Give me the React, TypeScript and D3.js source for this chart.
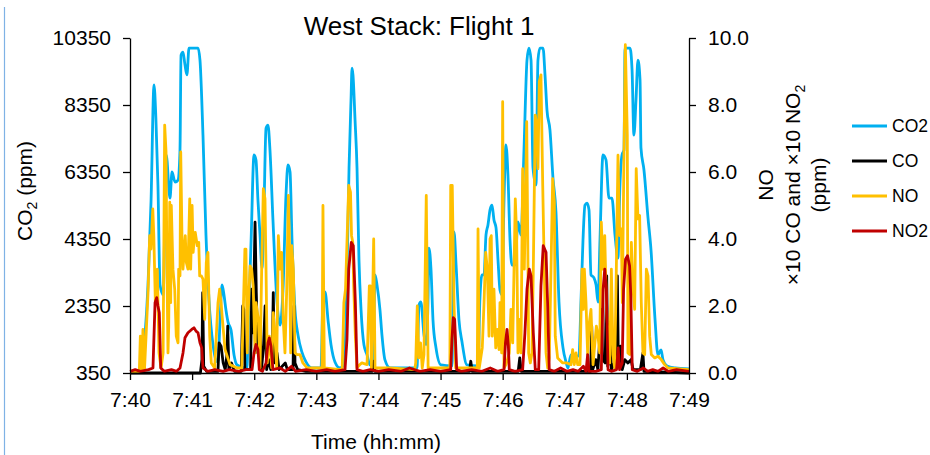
import React, { useEffect, useRef } from 'react';
import * as d3 from 'd3';

// time is seconds after 7:40:00
// CO2 in ppm (left axis)
const co2Data: [number, number][] = [
  [0, 380], [10, 410], [14.5, 1480], [17.4, 2980], [20.3, 5450], [23.2, 8950], [25, 7960], [27, 5960],
  [29, 2980], [32, 2680], [35, 6860], [38.6, 5570], [40.6, 6350], [43.5, 6050], [46.4, 6110], [48.3, 7010],
  [49.3, 9840], [51.2, 9930], [53, 9570], [55, 9250], [57, 10050], [65.7, 10050], [67.6, 9690], [70.5, 7450],
  [73.4, 4470], [76.3, 2530], [80.2, 1190], [83, 740], [85, 680], [87, 1930], [88.9, 2980], [90.8, 2680],
  [92.7, 2230], [94.7, 1870], [97.6, 1630], [100.5, 890], [103.4, 590], [111, 500], [113, 500], [114, 1480],
  [117, 4320], [119.8, 6860], [121.7, 6710], [123.6, 5510], [125.6, 4470], [127.5, 3480], [129.4, 5220],
  [131.4, 7660], [133.3, 7750], [135.2, 7010], [138.1, 4920], [142, 2470], [145, 1780], [147.8, 2830],
  [150.7, 5660], [152.6, 6560], [154.6, 6350], [156.5, 4320], [159.4, 2230], [162.3, 1480], [166, 980],
  [170, 680], [175.8, 500], [184.5, 500], [186.4, 2530], [188.4, 2770], [191.3, 1930], [194.2, 1190],
  [198, 680], [202.9, 500], [206.7, 590], [208.7, 1930], [211.6, 6470], [213.5, 8500], [214.5, 9450],
  [215.4, 9250], [217.4, 7900], [219.3, 6470], [221.2, 3720], [223.2, 2230], [226, 1190], [229, 890],
  [231.8, 590], [234.7, 560], [236.7, 3280], [238.6, 2980], [241.5, 2230], [243.4, 1480], [246.3, 740],
  [251.2, 500], [277.2, 500], [279.2, 2380], [281, 2470], [284, 1480], [286, 1190], [287.9, 2530],
  [288.8, 4080], [290.8, 3420], [292.7, 1930], [295.6, 1100], [300.4, 590], [311, 560], [313, 4560],
  [315, 3570], [317.8, 1930], [320.7, 1280], [325.5, 590], [336.2, 560], [338, 2530], [340, 3280],
  [342, 3280], [343.9, 4470], [345.8, 4770], [347.8, 5220], [349.7, 5360], [351.6, 4920], [353.6, 4680],
  [355.5, 3720], [357.4, 2830], [359.4, 2680], [361.3, 5510], [363.2, 7160], [365.1, 6260], [367.1, 4320],
  [369, 3570], [371.9, 3570], [374.8, 4860], [377.7, 4470], [380.6, 7010], [383.5, 9690], [385.4, 10050],
  [387.4, 9690], [389.3, 6470], [392.2, 5960], [394.1, 9690], [396, 10050], [399, 10050], [400.9, 9250],
  [402.8, 8200], [405.7, 7600], [408.6, 6170], [411.5, 5150], [414.4, 2470], [418.3, 1100], [421.2, 680],
  [423, 500], [426, 890], [429, 680], [430.8, 800], [433.7, 890], [435.7, 2530], [437.6, 4320],
  [439.5, 5360], [441.5, 5420], [443.4, 5220], [445.3, 3280], [448.2, 3190], [450.2, 2980], [452.1, 2470],
  [454, 4320], [456.9, 6860], [459.8, 6710], [462.7, 5570], [465.6, 5570], [468.5, 4470], [471.4, 3780],
  [473.3, 5960], [475.3, 6860], [477.2, 7010], [478.2, 10050], [483, 10050], [485, 9390], [486.8, 7450],
  [488.8, 8500], [490.7, 9690], [492.7, 9100], [493.6, 7070], [496.5, 6410], [500.4, 4980], [503.3, 4020],
  [507.1, 1990], [510, 890], [513, 1040], [514.9, 740], [518.8, 560], [526.5, 500], [540, 470],
];

// x10 CO in ppm (right axis)
const coData: [number, number][] = [
  [0, 0], [68, 0], [69.5, 0.4], [70.2, 2.4], [71.2, 0.2], [74, 0.05], [85, 0.05], [86, 0.9], [88, 0.8],
  [90, 0.3], [92, 0.1], [93.5, 0.5], [94.4, 1.4], [95.5, 0.1], [98, 0.3], [101, 0.05], [107.5, 0.05],
  [108.9, 2.0], [110, 1.9], [111, 0.1], [116.5, 0.1], [117.6, 2.5], [118.8, 1.2], [120.8, 4.5], [122, 2.4],
  [123.5, 0.6], [125.6, 1.4], [127, 0.1], [129, 0.8], [130.5, 2.0], [132, 0.1], [134, 0.4], [136, 0.1],
  [137.5, 0.6], [138.4, 2.4], [139.5, 0.3], [142, 0.6], [144, 0.1], [150, 0.3], [152, 0.1], [157.5, 0.1],
  [158.4, 2.0], [159.4, 0.3], [162, 0.1], [170, 0.05], [234, 0.05], [235.4, 0.35], [236.5, 0.05],
  [328, 0.05], [329.2, 0.35], [330.5, 0.05], [375, 0.05], [376.5, 0.45], [378, 0.05], [445, 0.05],
  [446, 1.4], [447, 0.1], [450, 0.4], [452, 0.1], [455.5, 1.9], [456.5, 0.4], [459, 0.3], [460.5, 2.9],
  [461.5, 0.2], [463, 0.4], [464, 1.5], [465, 0.1], [468, 0.3], [470, 0.8], [470.8, 2.9], [471.8, 0.2],
  [474, 0.8], [475.5, 0.1], [478, 0.4], [481, 0.3], [484, 0.4], [486, 0.1], [493, 0.1], [495.5, 0.6],
  [496.5, 0.05], [540, 0],
];

// NO in ppm (right axis)
const noData: [number, number][] = [
  [0, 0.05], [9, 0.05], [10, 1.1], [11.5, 0.1], [12.5, 1.3], [14, 0.1], [15.5, 1.1], [17.4, 2.4], [19, 4.1],
  [20.3, 3.7], [22, 4.9], [23, 4.1], [24.5, 2.1], [26.4, 3.1], [28, 0.6], [30, 0.15], [32, 0.6], [33.5, 7.4],
  [34.8, 6.6], [35.7, 3.1], [36.7, 0.6], [37.4, 1.4], [38.4, 5.1], [39.3, 2.1], [39.9, 5.0], [41.5, 3.1],
  [43.2, 2.5], [44.7, 1.1], [46.4, 0.9], [47, 3.1], [48.3, 2.9], [49, 6.6], [50.2, 4.1], [51.2, 3.1],
  [52.2, 3.6], [53.4, 4.1], [54.4, 3.3], [56, 3.1], [57.7, 5.2], [58.6, 3.1], [60, 5.0], [61, 3.6],
  [61.8, 3.9], [63, 4.2], [65, 3.8], [66.4, 3.9], [67.3, 2.9], [68.9, 2.9], [70.5, 2.8], [72.2, 1.6],
  [73.7, 3.3], [75.3, 3.6], [77, 1.1], [78.5, 0.3], [81.8, 0.15], [85, 2.1], [86.6, 2.5], [88, 2.1],
  [89, 1.7], [91.8, 0.7], [96.6, 0.25], [103.4, 0.15], [108, 0.15], [111, 3.7], [112, 3.7], [113.3, 0.6],
  [114.3, 1.9], [116, 3.2], [117.5, 3.1], [119, 2.6], [120.8, 0.6], [121.7, 2.1], [124, 1.6], [125.6, 0.15],
  [127.2, 3.1], [128.8, 5.5], [130.4, 5.2], [131.4, 3.1], [132.6, 0.3], [134.6, 1.1], [136.9, 0.15],
  [138.4, 1.8], [140, 1.1], [141.7, 0.15], [143.3, 4.1], [145, 3.1], [146.5, 3.6], [148, 1.6], [149.7, 0.6],
  [151.4, 2.5], [153, 5.3], [153.9, 4.1], [155.2, 0.6], [156.2, 3.8], [157.8, 3.1], [159.4, 0.6],
  [161.3, 0.55], [164.2, 0.55], [167, 0.3], [171, 0.15], [185.5, 0.15], [186.4, 5.0], [187.7, 0.15],
  [203, 0.1], [205, 0.15], [206.6, 2.1], [208.2, 2.5], [209.8, 4.1], [211.3, 5.6], [213, 5.4], [214, 4.1],
  [215.2, 3.9], [216.1, 2.6], [217.7, 1.1], [219.3, 0.15], [222, 0.25], [224, 0.3], [229, 0.25],
  [231.2, 2.6], [232.2, 2.6], [233.2, 0.15], [235.4, 4.0], [236.7, 0.15], [251, 0.15], [275, 0.1],
  [276, 0.3], [277.5, 2.0], [279, 0.45], [280.7, 0.9], [282.3, 0.15], [284, 0.55], [286.2, 5.3],
  [288, 0.15], [309, 0.15], [309.8, 5.6], [311.3, 5.6], [313, 2.1], [314.6, 0.15], [335.5, 0.15],
  [336.2, 4.3], [337.4, 0.15], [340.3, 0.75], [342, 2.1], [343.6, 3.6], [345.2, 3.1], [346.8, 1.1],
  [347.8, 4.0], [349, 4.1], [350, 1.1], [351.6, 2.5], [353.3, 0.75], [354.8, 1.3], [356.5, 0.7],
  [357.4, 2.1], [359, 0.6], [360, 8.1], [361.3, 0.15], [363.2, 0.25], [366.4, 0.6], [368, 1.9],
  [369.7, 0.9], [372.2, 5.2], [373.5, 4.1], [374.8, 0.6], [376, 1.6], [377.7, 0.6], [379.3, 6.1],
  [380.9, 3.1], [381.9, 4.8], [383.2, 7.5], [384.2, 4.1], [385.1, 0.6], [386.7, 0.3], [388.3, 0.6],
  [389.6, 3.1], [391.5, 7.7], [392.8, 7.4], [394.1, 6.1], [395.4, 8.7], [397, 8.9], [398.7, 5.6],
  [400.2, 3.1], [401.9, 0.6], [403.5, 0.15], [405, 0.45], [406.7, 3.1], [408.3, 5.8], [409.9, 5.1],
  [410.8, 1.1], [413.1, 0.45], [418, 0.3], [422, 0.3], [426, 0.25], [427.6, 0.7], [429.2, 0.25],
  [430.8, 0.6], [432.4, 0.25], [434.7, 0.25], [436.6, 3.1], [437.9, 1.9], [438.9, 3.1], [440.5, 2.1],
  [442.1, 0.55], [443.7, 1.5], [445.3, 1.9], [447.3, 0.25], [450.5, 1.4], [452.1, 1.1], [453.7, 0.6],
  [455.3, 4.5], [457, 3.1], [458.6, 4.1], [460.1, 2.1], [461.8, 1.1], [463.4, 0.3], [465, 3.1],
  [466.6, 0.55], [468.2, 0.15], [469.8, 3.1], [471.4, 6.5], [473, 4.1], [474.6, 4.3], [475.6, 2.1],
  [477.2, 6.6], [478.5, 9.8], [480.4, 7.1], [481, 0.6], [482.7, 0.55], [484.3, 3.9], [485.9, 2.5],
  [487.5, 1.9], [489, 6.1], [490.7, 4.6], [492.3, 4.7], [493.9, 2.1], [495.5, 0.6], [497.2, 0.55],
  [498.8, 3.1], [500.4, 2.9], [502, 1.1], [503.6, 0.55], [506.9, 0.45], [510, 0.5], [513.2, 0.4],
  [516.5, 0.25], [519.7, 0.15], [540, 0.1],
];

// x10 NO2 in ppm (right axis)
const no2Data: [number, number][] = [
  [0, 0.05], [5, 0.1], [10, 0.05], [18, 0.1], [22.2, 0.15], [24.2, 2.1], [25.8, 2.25], [27, 2.0],
  [28.3, 1.8], [29.7, 0.15], [33, 0.05], [40, 0.1], [45, 0.05], [48.3, 0.15], [51.2, 0.6], [53.1, 1.05],
  [56, 1.2], [59.6, 1.3], [61.8, 1.35], [63.8, 1.25], [65.7, 1.2], [67.6, 0.9], [69.3, 0.75], [70.5, 0.15],
  [75, 0.05], [82, 0.1], [90, 0.05], [96, 0.1], [105, 0.05], [112, 0.1], [117.9, 0.1], [119.8, 0.6],
  [121.7, 0.85], [123.6, 0.7], [124.9, 0.1], [128, 0.05], [131.4, 0.3], [133.3, 0.9], [134.6, 1.05],
  [136.2, 0.8], [138.1, 0.1], [145, 0.15], [150, 0.05], [156, 0.2], [160, 0.05], [170, 0.1], [180, 0.05],
  [190, 0.1], [198, 0.05], [207.7, 0.1], [209.6, 1.0], [211.3, 3.1], [213.8, 3.9], [215.7, 3.8],
  [217.7, 2.1], [219.3, 0.1], [225, 0.05], [232, 0.1], [240, 0.05], [250, 0.1], [262, 0.05], [270, 0.15],
  [280, 0.05], [290, 0.1], [300, 0.05], [309.8, 0.1], [311, 1.0], [312.3, 1.65], [313.6, 1.6],
  [315.6, 0.1], [320, 0.05], [330, 0.1], [340, 0.05], [348, 0.15], [355, 0.05], [361.3, 0.1],
  [362.7, 0.9], [364.2, 1.3], [365.5, 0.8], [366.4, 0.1], [372, 0.05], [379.3, 0.1], [381.5, 1.2],
  [383.5, 2.5], [385.7, 3.1], [387.4, 2.9], [389.6, 1.2], [391.5, 0.1], [394.8, 0.1], [397, 2.6],
  [399.2, 3.8], [401.9, 3.6], [403.5, 2.0], [405, 0.1], [410, 0.05], [416, 0.15], [422, 0.05], [428, 0.1],
  [433, 0.05], [438, 0.2], [440.5, 0.05], [442.1, 0.55], [443.4, 0.05], [450, 0.05], [455.3, 0.1],
  [457, 2.5], [458.6, 3.1], [460.1, 2.5], [461.8, 0.1], [465, 0.05], [470, 0.1], [471.6, 0.75],
  [472.9, 0.1], [475.5, 0.3], [476.8, 2.5], [478.7, 3.4], [480.6, 3.5], [482.6, 3.2], [483.8, 2.3],
  [485.2, 0.1], [490, 0.05], [496, 0.15], [500, 0.05], [505, 0.1], [510, 0.05], [515, 0.15], [520, 0.05],
  [528, 0.1], [540, 0.05],
];

const timeTicks = [0, 60, 120, 180, 240, 300, 360, 420, 480, 540];
const co2Ticks = [350, 2350, 4350, 6350, 8350, 10350];
const rightTicks = [0, 2, 4, 6, 8, 10];
const seriesNames = ['CO2', 'CO', 'NO', 'NO2'];
const seriesColors = ['#00B0F0', '#000000', '#FFC000', '#C00000'];

const FONT = "'Liberation Sans', Arial, sans-serif";

const App = () => {
  const ref = useRef<SVGSVGElement>(null);

  useEffect(() => {
    const svg = d3.select(ref.current);
    svg.selectAll('*').remove();

    const margin = { top: 38, left: 130, right: 241, bottom: 82 };
    const width = 930 - margin.left - margin.right;
    const height = 455 - margin.top - margin.bottom;

    // stray border line at the left edge of the picture
    svg.append('line')
      .attr('x1', 4.5).attr('x2', 4.5)
      .attr('y1', 7).attr('y2', 455)
      .attr('stroke', '#7FB2E5')
      .attr('stroke-width', 1.2);

    const g = svg.append('g').attr('transform', `translate(${margin.left},${margin.top})`);

    const x = d3.scaleLinear().domain([0, 540]).range([0, width]);
    const yLeft = d3.scaleLinear().domain([350, 10350]).range([height, 0]);
    const yRight = d3.scaleLinear().domain([0, 10]).range([height, 0]);

    // series, CO2 on left axis, others on right axis
    const lineLeft = d3.line<[number, number]>()
      .x((d) => x(d[0]))
      .y((d) => yLeft(d[1]))
      .curve(d3.curveMonotoneX);
    const lineRight = d3.line<[number, number]>()
      .x((d) => x(d[0]))
      .y((d) => yRight(d[1]));

    const drawn: [string, [number, number][], boolean][] = [
      [seriesColors[0], co2Data, true],
      [seriesColors[1], coData, false],
      [seriesColors[2], noData, false],
      [seriesColors[3], no2Data, false],
    ];
    drawn.forEach(([color, data, left]) => {
      g.append('path')
        .datum(data)
        .attr('fill', 'none')
        .attr('stroke', color)
        .attr('stroke-width', 2.8)
        .attr('stroke-linejoin', 'round')
        .attr('d', left ? lineLeft(data) : lineRight(data));
    });

    // axes
    const styleAxis = (sel: any) => {
      sel.selectAll('path, line').attr('stroke', '#000').attr('stroke-width', 1.3);
      sel.selectAll('text')
        .attr('fill', '#000')
        .style('font-family', FONT)
        .style('font-size', '21px');
    };

    g.append('g')
      .call(d3.axisLeft(yLeft).tickValues(co2Ticks).tickSize(7).tickSizeOuter(0).tickPadding(12)
        .tickFormat((d) => `${d}`))
      .call(styleAxis);

    g.append('g')
      .attr('transform', `translate(${width},0)`)
      .call(d3.axisRight(yRight).tickValues(rightTicks).tickSize(7).tickSizeOuter(0).tickPadding(12)
        .tickFormat((d) => (+d).toFixed(1)))
      .call(styleAxis);

    g.append('g')
      .attr('transform', `translate(0,${height})`)
      .call(d3.axisBottom(x).tickValues(timeTicks).tickSize(7).tickSizeOuter(0).tickPadding(12)
        .tickFormat((d) => `7:${40 + Math.round(+d / 60)}`))
      .call(styleAxis);

    // titles
    svg.append('text')
      .attr('x', 419).attr('y', 35)
      .attr('text-anchor', 'middle')
      .style('font-family', FONT).style('font-size', '26px')
      .text('West Stack: Flight 1');

    svg.append('text')
      .attr('x', 376).attr('y', 449)
      .attr('text-anchor', 'middle')
      .style('font-family', FONT).style('font-size', '21px')
      .text('Time (hh:mm)');

    const leftLabel = svg.append('text')
      .attr('transform', 'translate(32,191) rotate(-90)')
      .attr('text-anchor', 'middle')
      .style('font-family', FONT).style('font-size', '21px');
    leftLabel.append('tspan').text('CO');
    leftLabel.append('tspan').attr('dy', 5).style('font-size', '14px').text('2');
    leftLabel.append('tspan').attr('dy', -5).text(' (ppm)');

    svg.append('text')
      .attr('transform', 'translate(773,185) rotate(-90)')
      .attr('text-anchor', 'middle')
      .style('font-family', FONT).style('font-size', '21px')
      .text('NO');

    const r2 = svg.append('text')
      .attr('transform', 'translate(800,185) rotate(-90)')
      .attr('text-anchor', 'middle')
      .style('font-family', FONT).style('font-size', '21px');
    r2.append('tspan').text('\u00d710 CO and  \u00d710 NO');
    r2.append('tspan').attr('dy', 5).style('font-size', '14px').text('2');

    svg.append('text')
      .attr('transform', 'translate(826,185) rotate(-90)')
      .attr('text-anchor', 'middle')
      .style('font-family', FONT).style('font-size', '21px')
      .text('(ppm)');

    // legend
    const legend = svg.append('g').attr('transform', 'translate(852,126)');
    seriesNames.forEach((name, i) => {
      const item = legend.append('g').attr('transform', `translate(0,${i * 35})`);
      item.append('line')
        .attr('x1', 0).attr('x2', 35)
        .attr('stroke', seriesColors[i])
        .attr('stroke-width', 2.8);
      item.append('text')
        .attr('x', 40).attr('y', 6)
        .style('font-family', FONT).style('font-size', '17.5px')
        .text(name);
    });
  }, []);

  return (
    <svg
      ref={ref}
      width={930}
      height={455}
      style={{ position: 'absolute', left: 0, top: 0, background: '#fff' }}
    />
  );
};

export default App;
